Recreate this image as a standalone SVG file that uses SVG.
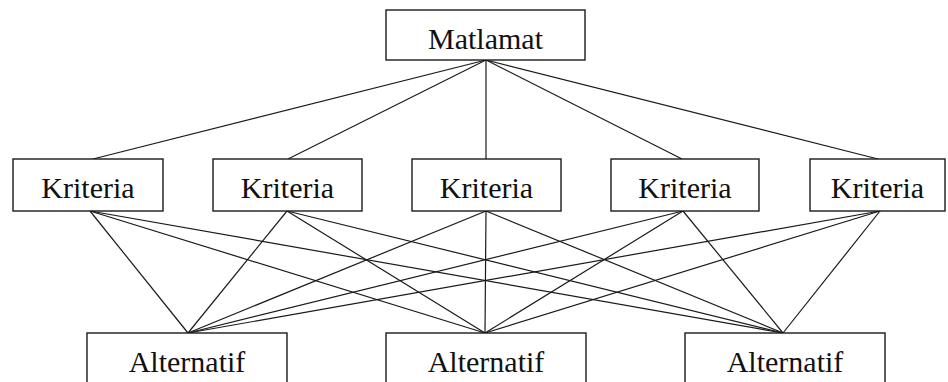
<svg xmlns="http://www.w3.org/2000/svg" width="948" height="382" viewBox="0 0 948 382">
  <style>
    .box { fill: #ffffff; stroke: #1a1a1a; stroke-width: 1.4; }
    .lbl { font-family: "Liberation Serif", "Times New Roman", Times, serif; font-size: 30px; fill: #111111; text-anchor: middle; }
    .edge { stroke: #1a1a1a; stroke-width: 1.2; fill: none; }
  </style>
  <rect width="948" height="382" fill="#ffffff"/>

  <g id="connectors">
    <!-- goal to criteria -->
    <line class="edge" x1="486" y1="60" x2="93" y2="159"/>
    <line class="edge" x1="486" y1="60" x2="288" y2="159"/>
    <line class="edge" x1="486" y1="60" x2="486" y2="159"/>
    <line class="edge" x1="486" y1="60" x2="682" y2="159"/>
    <line class="edge" x1="486" y1="60" x2="878" y2="159"/>
    <!-- criteria to alternatives -->
    <line class="edge" x1="90" y1="211" x2="188" y2="333"/>
    <line class="edge" x1="90" y1="211" x2="485" y2="333"/>
    <line class="edge" x1="90" y1="211" x2="783" y2="333"/>
    <line class="edge" x1="287" y1="211" x2="188" y2="333"/>
    <line class="edge" x1="287" y1="211" x2="485" y2="333"/>
    <line class="edge" x1="287" y1="211" x2="783" y2="333"/>
    <line class="edge" x1="486" y1="211" x2="188" y2="333"/>
    <line class="edge" x1="486" y1="211" x2="485" y2="333"/>
    <line class="edge" x1="486" y1="211" x2="783" y2="333"/>
    <line class="edge" x1="683" y1="211" x2="188" y2="333"/>
    <line class="edge" x1="683" y1="211" x2="485" y2="333"/>
    <line class="edge" x1="683" y1="211" x2="783" y2="333"/>
    <line class="edge" x1="880" y1="211" x2="188" y2="333"/>
    <line class="edge" x1="880" y1="211" x2="485" y2="333"/>
    <line class="edge" x1="880" y1="211" x2="783" y2="333"/>
  </g>

  <g id="goal">
    <rect class="box" x="386" y="10" width="199" height="50"/>
    <text class="lbl" x="485.5" y="49">Matlamat</text>
  </g>

  <g id="criterion-1">
    <rect class="box" x="13" y="159" width="150" height="52"/>
    <text class="lbl" x="88" y="198">Kriteria</text>
  </g>
  <g id="criterion-2">
    <rect class="box" x="213" y="159" width="149" height="52"/>
    <text class="lbl" x="287.5" y="198">Kriteria</text>
  </g>
  <g id="criterion-3">
    <rect class="box" x="412" y="159" width="149" height="52"/>
    <text class="lbl" x="486.5" y="198">Kriteria</text>
  </g>
  <g id="criterion-4">
    <rect class="box" x="611" y="159" width="148" height="52"/>
    <text class="lbl" x="685" y="198">Kriteria</text>
  </g>
  <g id="criterion-5">
    <rect class="box" x="810" y="159" width="135" height="52"/>
    <text class="lbl" x="877.5" y="198">Kriteria</text>
  </g>

  <g id="alternative-1">
    <rect class="box" x="87" y="333" width="200" height="62"/>
    <text class="lbl" x="187" y="372">Alternatif</text>
  </g>
  <g id="alternative-2">
    <rect class="box" x="386" y="333" width="200" height="62"/>
    <text class="lbl" x="486" y="372">Alternatif</text>
  </g>
  <g id="alternative-3">
    <rect class="box" x="685" y="333" width="200" height="62"/>
    <text class="lbl" x="785" y="372">Alternatif</text>
  </g>
</svg>
